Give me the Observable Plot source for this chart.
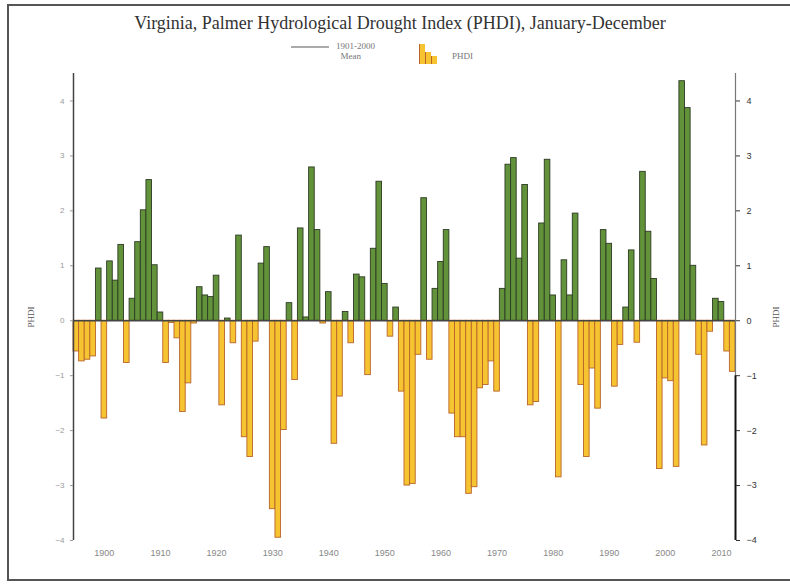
<!DOCTYPE html>
<html><head><meta charset="utf-8">
<script src="https://cdn.jsdelivr.net/npm/d3@7"></script>
<script src="https://cdn.jsdelivr.net/npm/@observablehq/plot@0.6"></script>
<style>
body{margin:0;background:#fff;}
#wrap{position:relative;width:790px;height:585px;overflow:hidden;font-family:"Liberation Serif","DejaVu Serif",serif;}
#frame{position:absolute;left:7px;top:4px;width:800px;height:577px;border:2px solid #555;box-sizing:border-box;}
#title{position:absolute;left:0;width:800px;top:13px;text-align:center;font-size:18px;color:#333;}
#chart{position:absolute;left:0;top:0;}
.lg{position:absolute;color:#777;font-size:9px;line-height:10px;}
.axl{position:absolute;color:#555;font-size:9px;transform:rotate(-90deg);transform-origin:center;}
</style></head>
<body>
<div id="wrap">
  <div id="chart"></div>
  <div id="frame"></div>
  <div id="title">Virginia, Palmer Hydrological Drought Index (PHDI), January-December</div>
  <div class="lg" style="left:291px;top:46px;width:38px;height:0;border-top:2px solid #aaa;"></div>
  <div class="lg" style="left:336px;top:41px;">1901-2000<br>&nbsp;&nbsp;Mean</div>
  <div class="lg" style="left:419px;top:44px;width:5px;height:20px;background:#f6c431;border-left:1px solid #b8642a;"></div>
  <div class="lg" style="left:425px;top:52px;width:5px;height:12px;background:#f6c431;border-left:1px solid #b8642a;"></div>
  <div class="lg" style="left:431px;top:56px;width:5px;height:8px;background:#f6c431;border-left:1px solid #b8642a;"></div>
  <div class="lg" style="left:452px;top:51px;">PHDI</div>
  <div class="axl" style="left:20px;top:312px;">PHDI</div>
  <div class="axl" style="left:765px;top:312px;">PHDI</div>
</div>
<script>
const years = d3.range(1895, 2013);
const phdi = [
  -0.56, -0.74, -0.71, -0.65, 0.95, -1.78, 1.08, 0.73, 1.38, -0.77,   // 1895-1904
   0.40,  1.43,  2.01,  2.56, 1.01,  0.15, -0.77, -0.04, -0.32, -1.66,  // 1905-1914
  -1.14, -0.05,  0.61,  0.46, 0.43,  0.82, -1.54, 0.04, -0.41,  1.55,  // 1915-1924
  -2.12, -2.48, -0.38,  1.04, 1.34, -3.43, -3.95, -1.99,  0.32, -1.08, // 1925-1934
   1.68,  0.06,  2.79,  1.65, -0.05, 0.52, -2.24, -1.38,  0.16, -0.41, // 1935-1944
   0.84,  0.79, -0.99,  1.31, 2.53,  0.67, -0.29,  0.24, -1.29, -3.00, // 1945-1954
  -2.97, -0.62,  2.23, -0.71, 0.58,  1.07,  1.65, -1.69, -2.12, -2.12, // 1955-1964
  -3.15, -3.03, -1.23, -1.17, -0.74, -1.29, 0.58,  2.84,  2.96,  1.13, // 1965-1974
   2.47, -1.54, -1.48,  1.77, 2.93,  0.46, -2.85,  1.10,  0.46,  1.95, // 1975-1984
  -1.17, -2.48, -0.87, -1.60, 1.65,  1.40, -1.20, -0.44,  0.24,  1.28, // 1985-1994
  -0.40,  2.71,  1.62,  0.76, -2.70, -1.05, -1.10, -2.66, 4.36,  3.87, // 1995-2004
   1.00, -0.62, -2.27, -0.20, 0.40,  0.34, -0.56, -0.93                 // 2005-2012
];
const xTicks = [1900,1910,1920,1930,1940,1950,1960,1970,1980,1990,2000,2010];
const yTicks = [-4,-3,-2,-1,0,1,2,3,4];
const data = years.map((y,i)=>({year:y, v:phdi[i]}));
const pos = data.filter(d=>d.v>=0), neg = data.filter(d=>d.v<0);
const chart = Plot.plot({
  width:790, height:585,
  marginLeft:73, marginRight:55, marginTop:73, marginBottom:45,
  style:{fontFamily:"Liberation Sans, Arial, sans-serif", background:"transparent"},
  x:{domain:[1894.5,2012.5], axis:null},
  y:{domain:[-4,4.5], axis:null},
  marks:[
    Plot.rect(pos, {x1:d=>d.year-0.5, x2:d=>d.year+0.5, y1:0, y2:"v", fill:"#62933a", stroke:"#2d3a24", strokeWidth:0.9}),
    Plot.rect(neg, {x1:d=>d.year-0.5, x2:d=>d.year+0.5, y1:0, y2:"v", fill:"#f6c431", stroke:"#b8642a", strokeWidth:0.9}),
    Plot.ruleY([0], {stroke:"#444", strokeWidth:1.5}),
    Plot.ruleX([1894.5], {y1:-4, y2:4.5, stroke:"#444", strokeWidth:1.5}),
    Plot.ruleX([2012.5], {y1:-1, y2:4.5, stroke:"#777", strokeWidth:1.2}),
    Plot.ruleX([2012.5], {y1:-4, y2:-1, stroke:"#111", strokeWidth:2}),
    Plot.axisY({anchor:"left", ticks:yTicks, tickSize:3, tickPadding:6, fontSize:8, color:"#999", label:null}),
    Plot.axisY({anchor:"right", ticks:yTicks, tickSize:4, tickPadding:7, fontSize:9, color:"#333", stroke:"#333", label:null}),
    Plot.axisX({anchor:"bottom", ticks:xTicks, tickSize:0, tickPadding:9, fontSize:9, color:"#888", tickFormat:d=>String(d), label:null})
  ]
});
document.getElementById("chart").appendChild(chart);
</script>
</body></html>
